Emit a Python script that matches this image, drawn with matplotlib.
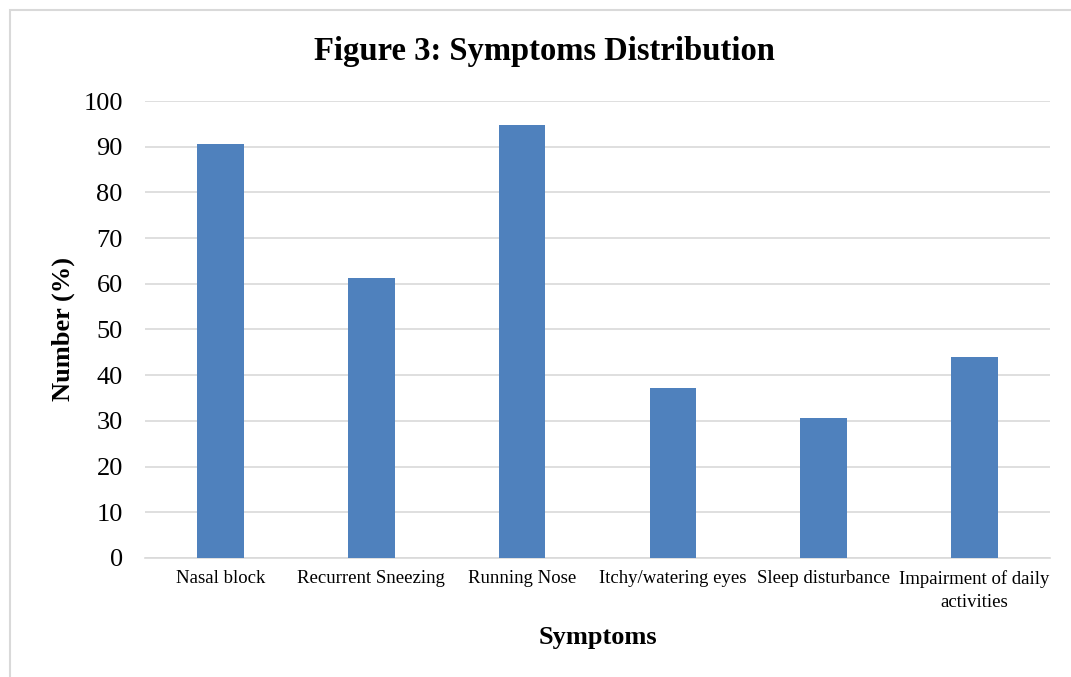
import matplotlib.pyplot as plt
from matplotlib.patches import Rectangle

categories = ["Nasal block", "Recurrent Sneezing", "Running Nose",
              "Itchy/watering eyes", "Sleep disturbance",
              "Impairment of daily\nactivities"]
values = [90.7, 61.2, 94.7, 37.2, 30.6, 43.9]
yticks = list(range(0, 101, 10))

plt.rcParams["font.family"] = ["Liberation Serif", "DejaVu Serif"]

fig = plt.figure(figsize=(10.71, 6.77), dpi=100)
ax = fig.add_axes([0.1354, 0.1758, 0.845, 0.675])

# light chart-area border like the Excel frame
fig.patches.append(Rectangle((10 / 1071, -0.05), 1.1, 1 - 10 / 677 + 0.05,
                             transform=fig.transFigure, fill=False,
                             edgecolor="#d9d9d9", linewidth=1.5, zorder=0))

x = range(len(categories))
ax.bar(x, values, width=0.31, color="#4f81bd", zorder=3)

ax.set_xlim(-0.5, len(categories) - 0.5)
ax.set_ylim(0, 100)
ax.set_yticks(yticks)
ax.set_yticklabels([str(t) for t in yticks], fontsize=19)
ax.set_xticks(list(x))
ax.set_xticklabels(categories, fontsize=13.5, linespacing=1.45)
ax.tick_params(axis="both", length=0)
ax.tick_params(axis="y", pad=16)
ax.tick_params(axis="x", pad=9)

ax.yaxis.grid(True, color="#d9d9d9", linewidth=1.2, zorder=0)
for s in ["top", "right", "left"]:
    ax.spines[s].set_visible(False)
ax.spines["bottom"].set_color("#d9d9d9")
ax.spines["bottom"].set_linewidth(1.2)

ax.set_xlabel("Symptoms", fontsize=19, fontweight="bold", labelpad=11)
ax.set_ylabel("Number (%)", fontsize=19, fontweight="bold", labelpad=6)
fig.text(0.508, 0.924, "Figure 3: Symptoms Distribution", ha="center",
         va="center", fontsize=23.5, fontweight="bold")

fig.savefig("out.png", dpi=100)
